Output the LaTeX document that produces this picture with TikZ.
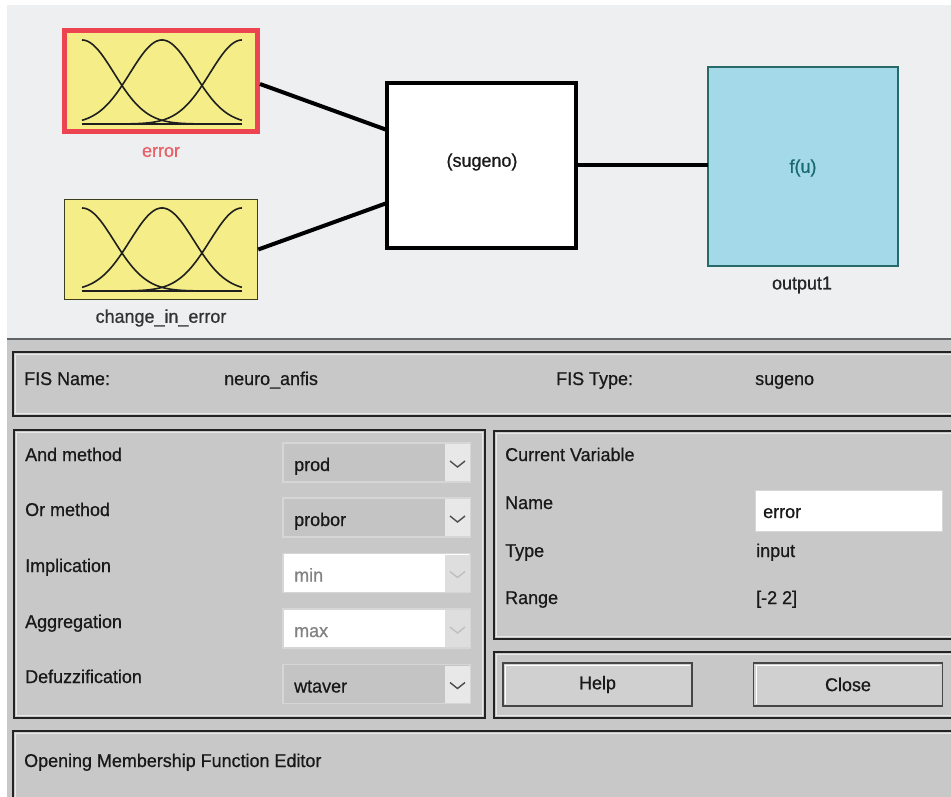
\documentclass[tikz,border=0pt]{standalone}
\usepackage{fontspec}
\setmainfont{Liberation Sans}[FakeStretch=0.97,FakeBold=0.7]
\usetikzlibrary{calc}
\definecolor{topbg}{RGB}{237,239,240}
\definecolor{panelbg}{RGB}{200,200,200}
\definecolor{mfyellow}{RGB}{245,237,135}
\definecolor{selred}{RGB}{236,68,80}
\definecolor{errlabel}{RGB}{232,96,104}
\definecolor{outcyan}{RGB}{163,217,232}
\definecolor{outedge}{RGB}{40,105,105}
\definecolor{futext}{RGB}{25,105,115}
\definecolor{darkline}{RGB}{35,35,35}
\definecolor{lightline}{RGB}{232,232,232}
\definecolor{ddfill}{RGB}{196,196,196}
\definecolor{ddarrow}{RGB}{232,232,232}
\definecolor{ddedge}{RGB}{214,214,214}
\definecolor{txt}{RGB}{25,25,25}
\definecolor{graytxt}{RGB}{130,130,130}
\definecolor{sepline}{RGB}{95,100,105}
\definecolor{btnfill}{RGB}{208,208,208}
\definecolor{btnedge}{RGB}{70,70,70}
\newcommand\uifont{\fontsize{18.5}{22}\selectfont}

\newcommand\mfcurves[4]{%
  \draw[mfline] (#1,#4) -- (#2,#4);
  \foreach \ctr in {0,0.5,1}{
    \draw[mfline] plot[domain=0:1,samples=80,smooth] ({#1+(#2-#1)*\x},{#4-(#4-#3)*exp(-((\x-\ctr)*(\x-\ctr))/0.08)});
  }}

\newcommand\uipanel[4]{%
  \draw[paneldark] (#1,#2) rectangle (#3,#4);
  \draw[panellight] (#1+2.5,#2+2.5) rectangle (#3-2.5,#4-2.5);}

\newcommand\ddon[3]{%
  \node[box, fill=ddfill, draw=ddedge, line width=1.5pt, minimum width=187pt, minimum height=39pt] (#1) at (376.5,#2) {};
  \fill[ddarrow] (445,#2-18.5) rectangle (469.5,#2+18.5);
  \draw[chev] (450,#2-1.5) -- (457.5,#2+4.5) -- (465,#2-1.5);
  \node[anchor=base west] (#1t) at (294,#2+8.5) {#3};}

\newcommand\ddoff[3]{%
  \node[box, fill=white, draw=ddedge, line width=1.5pt, minimum width=187pt, minimum height=39pt] (#1) at (376.5,#2) {};
  \fill[ddoffarrow] (445,#2-18.5) rectangle (469.5,#2+18.5);
  \draw[chev, draw=black!25] (450,#2-1.5) -- (457.5,#2+4.5) -- (465,#2-1.5);
  \node[anchor=base west, text=graytxt] (#1t) at (294,#2+8.5) {#3};}

\begin{document}
\begin{tikzpicture}[x=1pt,y=-1pt,
  every node/.style={font=\uifont, text=txt, inner sep=0pt},
  box/.style={rectangle, inner sep=0pt, outer sep=0pt},
  conn/.style={line width=4pt, draw=black},
  mfline/.style={line width=1.6pt, draw=black!88},
  paneldark/.style={draw=darkline, line width=2pt},
  panellight/.style={draw=lightline, line width=1pt},
  lbl/.style={anchor=base west},
  chev/.style={line width=1.4pt, draw=black!70},
  ddoffarrow/.style={fill={rgb,255:red,222;green,222;blue,222}},
  btn/.style={box, fill=btnfill, draw=btnedge, line width=1.5pt, minimum width=189pt, minimum height=43pt},
]
\path[use as bounding box] (0,0) rectangle (951,797);
\clip (0,0) rectangle (951,797);
\fill[white] (0,0) rectangle (951,797);
\fill[topbg] (7,5) rectangle (951,338);
\fill[panelbg] (7,340) rectangle (951,797);
\draw[sepline, line width=2pt] (7,339) -- (951,339);

% ---------- FIS diagram ----------
\node[box, fill=mfyellow, draw=selred, line width=5pt, minimum width=193pt, minimum height=101pt] (err) at (161,81) {};
\mfcurves{82}{242}{40}{124}
\node[text=errlabel] (errl) at (161,152) {error};

\node[box, fill=mfyellow, draw={rgb,255:red,60;green,60;blue,30}, line width=1.5pt, minimum width=193pt, minimum height=100pt] (ch) at (161,249.5) {};
\mfcurves{82}{242}{208}{291}
\node[text=black!80] (chl) at (161,318) {change\_in\_error};

\node[box, fill=white, draw=black, line width=4pt, minimum width=189pt, minimum height=165pt] (sug) at (481.5,165.5) {};
\node (sugt) at (482,162) {(sugeno)};

\node[box, fill=outcyan, draw=outedge, line width=2pt, minimum width=190pt, minimum height=199pt] (out) at (803,166.5) {};
\node[text=futext] (fu) at (803,168) {f(u)};
\node[text=black!85] (outl) at (802,285) {output1};

\draw[conn] ([xshift=2.5pt,yshift=-3pt]err.east) -- ([yshift=35.5pt]sug.west);
\draw[conn] ([xshift=0.75pt]ch.east) -- ([yshift=-37.5pt]sug.west);
\draw[conn] (sug.east) -- (sug.east -| out.west);

% ---------- panels ----------
\uipanel{13}{352}{960}{416}
\uipanel{14}{430}{485}{718}
\uipanel{494}{431}{960}{639}
\uipanel{494}{652}{960}{718}
\uipanel{13}{731}{960}{810}

\node[lbl] (fisn) at (24,385) {FIS Name:};
\node[lbl] (fisnv) at (224,385) {neuro\_anfis};
\node[lbl] (fist) at (556,385) {FIS Type:};
\node[lbl] (fistv) at (755,385) {sugeno};

\node[lbl] (andm) at (25,461) {And method};
\node[lbl] (orm) at (25,516) {Or method};
\node[lbl] (impl) at (25,572) {Implication};
\node[lbl] (aggr) at (25,628) {Aggregation};
\node[lbl] (defz) at (25,683) {Defuzzification};

\ddon{ddand}{462.5}{prod}
\ddon{ddor}{517.5}{probor}
\ddoff{ddimp}{573}{min}
\ddoff{ddagg}{628.5}{max}
\ddon{dddef}{684}{wtaver}

\node[lbl] (cv) at (505,461) {Current Variable};
\node[lbl] (nm) at (505,509) {Name};
\node[lbl] (tp) at (505,557) {Type};
\node[lbl] (rg) at (505,604) {Range};
\node[box, fill=white, draw={rgb,255:red,215;green,215;blue,215}, line width=1pt, minimum width=187pt, minimum height=41pt] (namef) at (848.5,510.5) {};
\node[lbl] (namev) at (763,518) {error};
\node[lbl] (tpv) at (756,557) {input};
\node[lbl] (rgv) at (756,604) {[-2 2]};

\node[btn] (help) at (597.5,684.5) {Help};
\node[btn] (close) at (848,684.5) {Close};
\draw[white, line width=1pt] ($(help.south west)+(2.5,-2.5)$) |- ($(help.north east)+(-2.5,2.5)$);
\draw[white, line width=1pt] ($(close.south west)+(2.5,-2.5)$) |- ($(close.north east)+(-2.5,2.5)$);

\node[lbl] (status) at (24,767) {Opening Membership Function Editor};
\end{tikzpicture}
\end{document}
